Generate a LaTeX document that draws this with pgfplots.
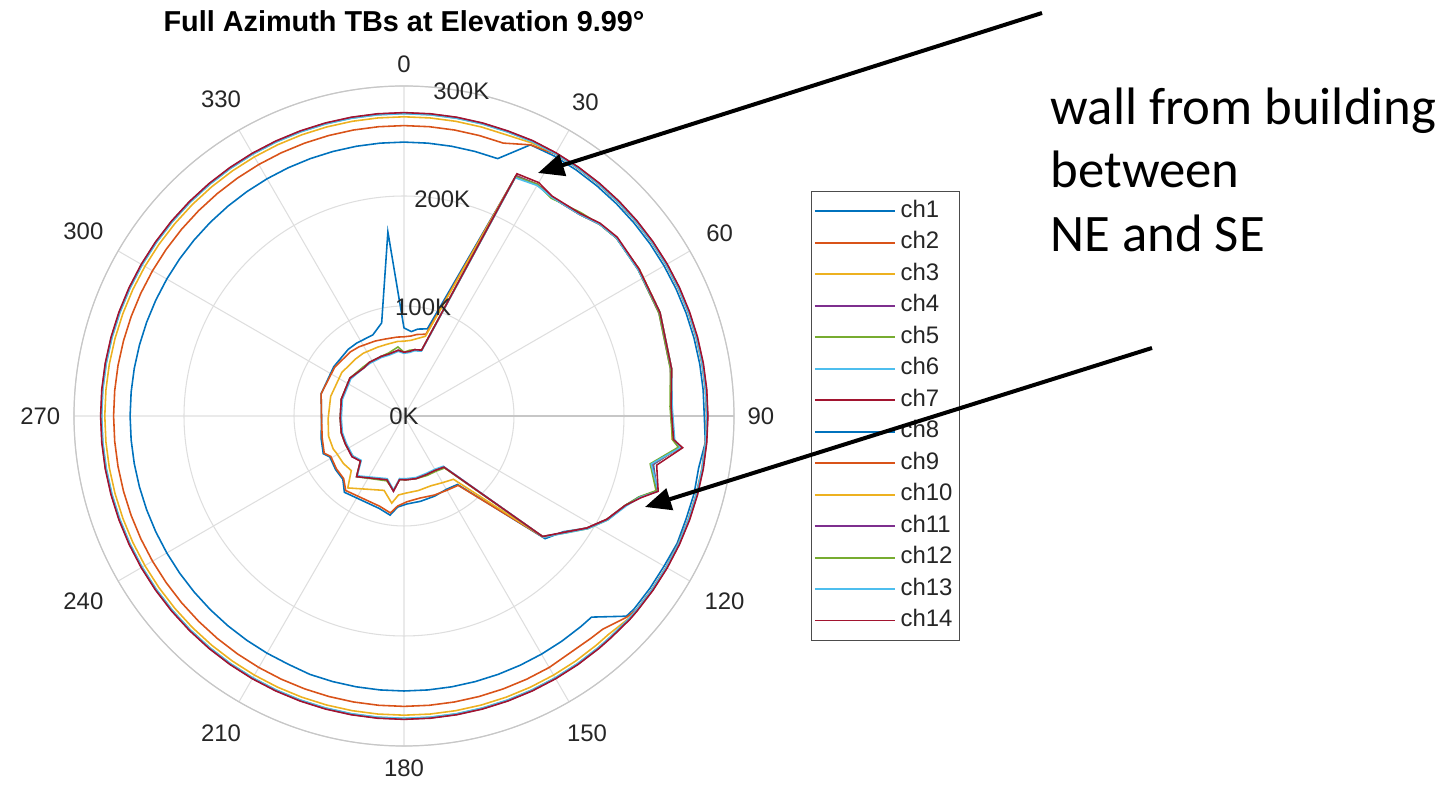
\documentclass[border=0pt]{standalone}
\usepackage{fontspec}
\setmainfont{Liberation Sans}
\newfontfamily\calibri{Carlito}
\usepackage{pgfplots}
\pgfplotsset{compat=1.18}
\usepackage{pgfplotstable}
\usepgfplotslibrary{polar}
\usetikzlibrary{arrows.meta}

\definecolor{m1}{rgb}{0,0.447,0.741}
\definecolor{m2}{rgb}{0.85,0.325,0.098}
\definecolor{m3}{rgb}{0.929,0.694,0.125}
\definecolor{m4}{rgb}{0.494,0.184,0.556}
\definecolor{m5}{rgb}{0.466,0.674,0.188}
\definecolor{m6}{rgb}{0.301,0.745,0.933}
\definecolor{m7}{rgb}{0.635,0.078,0.184}
\definecolor{tickgray}{rgb}{0.15,0.15,0.15}

% azimuth (deg, clockwise from north), TB in K
\pgfplotstableread{
az    c1   c2   c3   c4   c5   c6   c7
0     80   72   68   58   58   57   58
5     77   73   69   59   60   58   59
9     80   75   71   61   61   60   61
15    82   77   75   62   62   61   62
25    240  241  241  241  240  239  243
30    243  243  243  243  243  242  245
34    240  240  240  240  239  240  241
41    243  243  243  243  245  243  244
45.5  249  249  249  249  249  249  250
50    252  252  252  252  252  252  253
58    252  252  252  251  251  251  252
68    251  251  251  250  250  251  251
80    247  247  247  246  246  247  247
88    243  243  243  243  242  244  243
95    246  245  245  246  245  247  246
96.5  252  253  252  252  251  253  255
101   231  230  230  230  228  229  234
106.5 240  240  240  240  239  241  241
109   226  227  227  227  226  227  228
112   217  217  217  217  217  218  217
117   207  207  207  207  208  208  207
121.5 195  195  195  195  196  196  195
126   179  180  180  180  181  181  180
131   170  168  168  167  167  168  167
142   79   80   73   59   60   58   59
150   77   78   70   57   58   56   57
159   78   77   68   57   58   56   57
169   79   76   69   58   58   57   58
178   80   78   70   58   58   57   58
184   83   82   72   58   58   57   58
188   91   89   80   69   68   68   69
195   87   85   70   60   61   59   60
218   88   86   83   70   70   69   70
224   80   79   69   57   57   56   57
232   79   78   70   60   59   59   60
241   77   76   70   59   59   58   59
245   81   80   71   59   59   58   59
255   78   77   71   59   59   58   59
268   75   75   69   58   58   57   58
285   78   78   69   59   59   58   59
305   78   77   69   60   60   59   60
320   79   76   68   57   58   57   57
327   79   75   68   58   58   57   58
339   79   73   67   58   58   57   58
346.5 87   72   67   58   59   57   58
355   168  72   68   60   63   59   60
360   80   72   68   58   58   57   58
}\innertab

\pgfplotstableread{
az   c8   c9   c10   c11   c12   c13   c14
0    249  264  272   275.5 275   274.8 275.8
5    249  264  272   275.5 275   274.8 275.8
10   249  264  272   275.5 275   274.8 275.8
15   249  264  272   275.5 275   274.8 275.8
20   249  264  272   275.5 275   274.8 275.8
25   272  272  274   276   275.5 275.2 276.3
30   273  275  275.5 276   275.5 275.2 276.3
35   273  275  275.5 276   275.5 275.2 276.3
40   273  275  275.5 276   275.5 275.2 276.3
45   273  275  275.5 276   275.5 275.2 276.3
50   273  275  275.5 276   275.5 275.2 276.3
55   273  275  275.5 276   275.5 275.2 276.3
60   273  275  275.5 276   275.5 275.2 276.3
65   273  275  275.5 276   275.5 275.2 276.3
70   273  275  275.5 276   275.5 275.2 276.3
75   273  275  275.5 276   275.5 275.2 276.3
80   273  275  275.5 276   275.5 275.2 276.3
85   273  275  275.5 276   275.5 275.2 276.3
90   273  275  275.5 276   275.5 275.2 276.3
95   275  275  275.5 276   275.5 275.2 276.3
100  272  275  275.5 276   275.5 275.2 276.3
105  273  275  275.5 276   275.5 275.2 276.3
110  273  275  275.5 276   275.5 275.2 276.3
115  274  275  275.5 276   275.5 275.2 276.3
120  273  275  275.5 276   275.5 275.2 276.3
125  273  275  275.5 276   275.5 275.2 276.3
130  273  275  275.5 276   275.5 275.2 276.3
132  272  273  275   276   275.5 275.2 276.3
137  250  265  272   275.5 275   274.8 275.8
140  250  264  272   275.5 275   274.8 275.8
145  250  263  272   275.5 275   274.8 275.8
150  250  264  272   275.5 275   274.8 275.8
155  250  264  272   275.5 275   274.8 275.8
160  250  264  272   275.5 275   274.8 275.8
165  250  264  272   275.5 275   274.8 275.8
170  250  264  272   275.5 275   274.8 275.8
175  250  264  272   275.5 275   274.8 275.8
180  250  264  272   275.5 275   274.8 275.8
185  250  264  272   275.5 275   274.8 275.8
190  250  264  272   275.5 275   274.8 275.8
195  250  264  272   275.5 275   274.8 275.8
200  250  264  272   275.5 275   274.8 275.8
205  249  264  272   275.5 275   274.8 275.8
210  249  264  272   275.5 275   274.8 275.8
215  249  264  272   275.5 275   274.8 275.8
220  249  264  272   275.5 275   274.8 275.8
225  249  264  272   275.5 275   274.8 275.8
230  249  264  272   275.5 275   274.8 275.8
235  249  264  272   275.5 275   274.8 275.8
240  249  264  272   275.5 275   274.8 275.8
245  249  264  272   275.5 275   274.8 275.8
250  249  264  272   275.5 275   274.8 275.8
255  249  264  272   275.5 275   274.8 275.8
260  249  264  272   275.5 275   274.8 275.8
265  249  264  272   275.5 275   274.8 275.8
270  249  264  272   275.5 275   274.8 275.8
275  249  264  272   275.5 275   274.8 275.8
280  249  264  272   275.5 275   274.8 275.8
285  249  264  272   275.5 275   274.8 275.8
290  249  264  272   275.5 275   274.8 275.8
295  249  264  272   275.5 275   274.8 275.8
300  249  264  272   275.5 275   274.8 275.8
305  249  264  272   275.5 275   274.8 275.8
310  249  264  272   275.5 275   274.8 275.8
315  249  264  272   275.5 275   274.8 275.8
320  249  264  272   275.5 275   274.8 275.8
325  249  264  272   275.5 275   274.8 275.8
330  249  264  272   275.5 275   274.8 275.8
335  249  264  272   275.5 275   274.8 275.8
340  249  264  272   275.5 275   274.8 275.8
345  249  264  272   275.5 275   274.8 275.8
350  249  264  272   275.5 275   274.8 275.8
355  249  264  272   275.5 275   274.8 275.8
360  249  264  272   275.5 275   274.8 275.8
}\outertab

\begin{document}
\begin{tikzpicture}
\useasboundingbox (-40.4mm,41.6mm) rectangle (104.8mm,-37mm);
\begin{polaraxis}[
  at={(0,0)}, anchor=center, clip=false,
  scale only axis, width=66mm, height=66mm,
  xmin=0, xmax=360, ymin=0, ymax=300,
  xtick={0,30,...,330},
  xticklabels={90,60,30,0,330,300,270,240,210,180,150,120},
  ytick={0,100,200,300}, yticklabels={},
  grid=major,
  major grid style={line width=0.3pt, draw=black!13},
  axis line style={line width=0.35pt, draw=black!22},
  tick style={draw=none},
  xticklabel style={font=\fontsize{6.8}{8}\selectfont, text=tickgray, inner sep=1.3mm},
  every axis plot/.append style={line width=0.45pt},
  legend cell align=left,
  legend image code/.code={\draw[#1, line width=0.55pt] (0mm,0mm) -- (8mm,0mm);},
  legend style={at={(1.1162,0.8414)}, anchor=north west,
    font=\fontsize{6.8}{8}\selectfont, text=tickgray,
    draw=black!70, line width=0.4pt,
    inner xsep=0.25mm, inner ysep=0.55mm, row sep=0.29mm,
    nodes={inner xsep=0.48mm, inner ysep=0.3mm}},
]
\addplot[m1] table[x expr={90-\thisrow{az}}, y=c1] {\innertab};
\addplot[m2] table[x expr={90-\thisrow{az}}, y=c2] {\innertab};
\addplot[m3] table[x expr={90-\thisrow{az}}, y=c3] {\innertab};
\addplot[m4] table[x expr={90-\thisrow{az}}, y=c4] {\innertab};
\addplot[m5] table[x expr={90-\thisrow{az}}, y=c5] {\innertab};
\addplot[m6] table[x expr={90-\thisrow{az}}, y=c6] {\innertab};
\addplot[m7] table[x expr={90-\thisrow{az}}, y=c7] {\innertab};
\addplot[m1] table[x expr={90-\thisrow{az}}, y=c8] {\outertab};
\addplot[m2] table[x expr={90-\thisrow{az}}, y=c9] {\outertab};
\addplot[m3] table[x expr={90-\thisrow{az}}, y=c10] {\outertab};
\addplot[m4] table[x expr={90-\thisrow{az}}, y=c11] {\outertab};
\addplot[m5] table[x expr={90-\thisrow{az}}, y=c12] {\outertab};
\addplot[m6] table[x expr={90-\thisrow{az}}, y=c13] {\outertab};
\addplot[m7] table[x expr={90-\thisrow{az}}, y=c14] {\outertab};
\legend{ch1,ch2,ch3,ch4,ch5,ch6,ch7,ch8,ch9,ch10,ch11,ch12,ch13,ch14}
\begin{scope}[every node/.style={font=\fontsize{6.8}{8}\selectfont, text=tickgray, inner sep=0pt}]
\node at (axis cs:80,0) {0K};
\node at (axis cs:80,100) {100K};
\node at (axis cs:80,200) {200K};
\node at (axis cs:80,300) {300K};
\end{scope}
\end{polaraxis}
\node[anchor=base, inner sep=0pt] at (0,38.45mm) {\fontsize{8.2}{10}\selectfont\bfseries Full Azimuth TBs at Elevation 9.99°};
\draw[line width=0.4mm, -{Triangle[length=2.6mm,width=2.2mm]}] (63.8mm,40.3mm) -- (13.4mm,24.3mm);
\draw[line width=0.4mm, -{Triangle[length=2.6mm,width=2.2mm]}] (74.8mm,6.8mm) -- (24.1mm,-9.1mm);
\begin{scope}[every node/.style={anchor=base west, inner sep=0pt, font=\calibri\fontsize{15}{18}\selectfont}]
\node at (64.6mm,29.1mm) {wall from building};
\node at (64.6mm,22.8mm) {between};
\node at (64.6mm,16.4mm) {NE and SE};
\end{scope}
\end{tikzpicture}
\end{document}
